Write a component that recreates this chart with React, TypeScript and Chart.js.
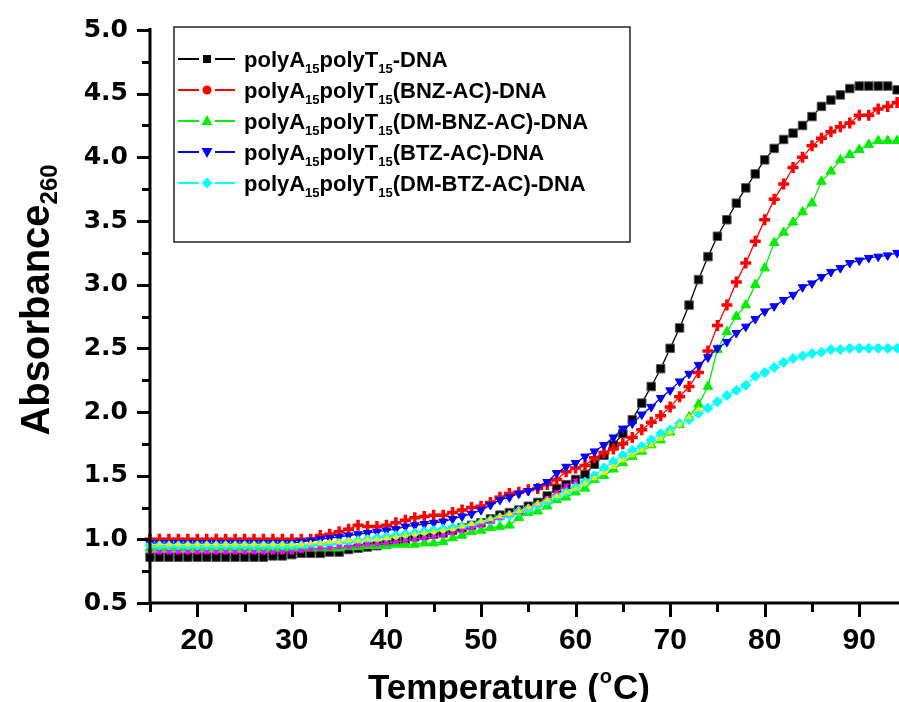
import React, { useEffect, useRef } from "react";
import { Chart, registerables } from "chart.js";

Chart.register(...registerables);

// Temperature (°C)
const temps = [
  15, 16, 17, 18, 19, 20, 21, 22, 23, 24,
  25, 26, 27, 28, 29, 30, 31, 32, 33, 34,
  35, 36, 37, 38, 39, 40, 41, 42, 43, 44,
  45, 46, 47, 48, 49, 50, 51, 52, 53, 54,
  55, 56, 57, 58, 59, 60, 61, 62, 63, 64,
  65, 66, 67, 68, 69, 70, 71, 72, 73, 74,
  75, 76, 77, 78, 79, 80, 81, 82, 83, 84,
  85, 86, 87, 88, 89, 90, 91, 92, 93, 94,
];

const dnaOnly = [
  0.86, 0.86, 0.86, 0.86, 0.86, 0.86, 0.86, 0.86, 0.86, 0.86,
  0.86, 0.86, 0.86, 0.87, 0.87, 0.88, 0.89, 0.89, 0.89, 0.90,
  0.90, 0.92, 0.93, 0.94, 0.95, 0.96, 0.98, 1.00, 1.02, 1.03,
  1.04, 1.05, 1.07, 1.09, 1.11, 1.13, 1.16, 1.19, 1.21, 1.23,
  1.26, 1.29, 1.34, 1.40, 1.43, 1.47, 1.51, 1.59, 1.66, 1.74,
  1.83, 1.94, 2.07, 2.20, 2.34, 2.50, 2.66, 2.84, 3.04, 3.22,
  3.38, 3.51, 3.64, 3.76, 3.87, 3.98, 4.07, 4.14, 4.19, 4.25,
  4.32, 4.40, 4.45, 4.49, 4.54, 4.56, 4.56, 4.56, 4.56, 4.53,
];

const bnzAc = [
  1.00, 1.00, 1.00, 1.00, 1.00, 1.00, 1.00, 1.00, 1.00, 1.00,
  1.00, 1.00, 1.00, 1.00, 1.00, 1.00, 1.00, 1.00, 1.03, 1.04,
  1.06, 1.08, 1.11, 1.10, 1.10, 1.11, 1.13, 1.15, 1.17, 1.18,
  1.19, 1.19, 1.21, 1.23, 1.25, 1.26, 1.29, 1.33, 1.36, 1.37,
  1.39, 1.40, 1.43, 1.47, 1.53, 1.56, 1.58, 1.64, 1.68, 1.71,
  1.75, 1.80, 1.86, 1.92, 1.97, 2.04, 2.12, 2.20, 2.31, 2.48,
  2.68, 2.84, 3.02, 3.17, 3.34, 3.51, 3.67, 3.79, 3.92, 4.00,
  4.09, 4.15, 4.20, 4.24, 4.27, 4.33, 4.33, 4.38, 4.40, 4.43,
];

const dmBnzAc = [
  0.93, 0.93, 0.93, 0.93, 0.93, 0.93, 0.93, 0.93, 0.93, 0.93,
  0.93, 0.93, 0.93, 0.93, 0.93, 0.93, 0.93, 0.93, 0.93, 0.93,
  0.93, 0.94, 0.94, 0.95, 0.95, 0.95, 0.96, 0.96, 0.96, 0.97,
  0.97, 0.98, 1.01, 1.03, 1.06, 1.07, 1.09, 1.10, 1.11, 1.17,
  1.21, 1.22, 1.26, 1.31, 1.33, 1.37, 1.40, 1.47, 1.50, 1.55,
  1.60, 1.65, 1.69, 1.74, 1.78, 1.84, 1.90, 1.96, 2.06, 2.20,
  2.49, 2.63, 2.75, 2.84, 3.00, 3.13, 3.33, 3.41, 3.49, 3.57,
  3.64, 3.81, 3.89, 3.98, 4.02, 4.06, 4.10, 4.13, 4.13, 4.13,
];

const btzAc = [
  0.97, 0.97, 0.97, 0.97, 0.97, 0.97, 0.97, 0.97, 0.97, 0.97,
  0.97, 0.97, 0.97, 0.97, 0.97, 0.97, 0.98, 0.99, 1.00, 1.01,
  1.02, 1.03, 1.04, 1.05, 1.06, 1.07, 1.08, 1.10, 1.11, 1.12,
  1.13, 1.14, 1.16, 1.18, 1.20, 1.23, 1.27, 1.31, 1.33, 1.36,
  1.38, 1.41, 1.45, 1.52, 1.57, 1.60, 1.65, 1.69, 1.74, 1.80,
  1.87, 1.91, 1.98, 2.04, 2.11, 2.17, 2.24, 2.30, 2.37, 2.43,
  2.50, 2.55, 2.62, 2.67, 2.73, 2.79, 2.83, 2.88, 2.92, 2.98,
  3.01, 3.06, 3.10, 3.13, 3.17, 3.19, 3.21, 3.22, 3.23, 3.25,
];

const dmBtzAc = [
  0.95, 0.95, 0.95, 0.95, 0.95, 0.95, 0.95, 0.95, 0.95, 0.95,
  0.95, 0.95, 0.95, 0.95, 0.95, 0.95, 0.95, 0.95, 0.96, 0.96,
  0.97, 0.98, 0.99, 1.00, 1.01, 1.02, 1.03, 1.04, 1.05, 1.06,
  1.07, 1.08, 1.09, 1.10, 1.11, 1.13, 1.15, 1.17, 1.19, 1.22,
  1.24, 1.27, 1.30, 1.34, 1.37, 1.41, 1.45, 1.50, 1.56, 1.61,
  1.66, 1.70, 1.73, 1.78, 1.83, 1.86, 1.91, 1.94, 1.99, 2.03,
  2.08, 2.13, 2.17, 2.21, 2.28, 2.31, 2.35, 2.39, 2.42, 2.44,
  2.46, 2.47, 2.49, 2.49, 2.50, 2.50, 2.50, 2.50, 2.50, 2.50,
];

// extra traces visible in the plot but not listed in the legend
const extraMagenta = [
  0.90, 0.90, 0.90, 0.90, 0.90, 0.90, 0.90, 0.90, 0.90, 0.90,
  0.90, 0.90, 0.90, 0.90, 0.90, 0.90, 0.91, 0.92, 0.93, 0.93,
  0.94, 0.94, 0.95, 0.96, 0.96, 0.97, 0.98, 0.99, 1.00, 1.01,
  1.02, 1.03, 1.05, 1.07, 1.09, 1.11, 1.14, 1.17, 1.20, 1.22,
  1.25, 1.28, 1.32, 1.37, 1.42, 1.46, null, null, null, null,
  null, null, null, null, null, null, null, null, null, null,
  null, null, null, null, null, null, null, null, null, null,
  null, null, null, null, null, null, null, null, null, null,
];

const extraYellow = [
  0.96, 0.96, 0.96, 0.96, 0.96, 0.96, 0.96, 0.96, 0.96, 0.96,
  0.96, 0.96, 0.96, 0.96, 0.96, 0.96, 0.96, 0.97, 0.97, 0.98,
  0.98, 0.99, 0.99, 1.00, 1.00, 1.01, 1.02, 1.03, 1.04, 1.05,
  1.06, 1.07, 1.08, 1.10, 1.12, 1.14, 1.16, 1.18, 1.20, 1.22,
  1.25, 1.28, 1.31, 1.34, 1.37, 1.40, 1.44, 1.48, 1.52, 1.57,
  1.62, 1.66, 1.70, 1.74, 1.79, 1.84, 1.90, 1.96, 2.02, null,
  null, null, null, null, null, null, null, null, null, null,
  null, null, null, null, null, null, null, null, null, null,
];

const xTicks = [20, 30, 40, 50, 60, 70, 80, 90];
const xMinorTicks = [15, 25, 35, 45, 55, 65, 75, 85];
const yTicks = [0.5, 1.0, 1.5, 2.0, 2.5, 3.0, 3.5, 4.0, 4.5, 5.0];
const yMinorTicks = [0.75, 1.25, 1.75, 2.25, 2.75, 3.25, 3.75, 4.25, 4.75];

// legend labels: even parts are normal text, odd parts are subscripts
const legendLabels = [
  ["polyA", "15", "polyT", "15", "-DNA"],
  ["polyA", "15", "polyT", "15", "(BNZ-AC)-DNA"],
  ["polyA", "15", "polyT", "15", "(DM-BNZ-AC)-DNA"],
  ["polyA", "15", "polyT", "15", "(BTZ-AC)-DNA"],
  ["polyA", "15", "polyT", "15", "(DM-BTZ-AC)-DNA"],
];
const legendColors = ["#000000", "#ff0000", "#00ee00", "#0000ff", "#00ffff"];
const legendMarkers = ["square", "circle", "triangle", "triangleDown", "diamond"];

const FONT = '"Liberation Sans", Arial, sans-serif';

function toPoints(vals: (number | null)[]) {
  return temps.map((t, i) => ({ x: t, y: vals[i] }));
}

function drawMarker(ctx: CanvasRenderingContext2D, kind: string, x: number, y: number, color: string) {
  ctx.fillStyle = color;
  ctx.beginPath();
  if (kind === "square") {
    ctx.rect(x - 4, y - 4, 8, 8);
  } else if (kind === "circle") {
    ctx.arc(x, y, 4.5, 0, Math.PI * 2);
  } else if (kind === "triangle") {
    ctx.moveTo(x, y - 6);
    ctx.lineTo(x + 5.5, y + 4);
    ctx.lineTo(x - 5.5, y + 4);
    ctx.closePath();
  } else if (kind === "triangleDown") {
    ctx.moveTo(x, y + 6);
    ctx.lineTo(x + 5.5, y - 4);
    ctx.lineTo(x - 5.5, y - 4);
    ctx.closePath();
  } else {
    ctx.moveTo(x, y - 5.5);
    ctx.lineTo(x + 5.5, y);
    ctx.lineTo(x, y + 5.5);
    ctx.lineTo(x - 5.5, y);
    ctx.closePath();
  }
  ctx.fill();
}

const decorPlugin = {
  id: "decor",
  afterDraw(chart: any) {
    const ctx: CanvasRenderingContext2D = chart.ctx;
    const a = chart.chartArea;
    const xs = chart.scales.x;
    const ys = chart.scales.y;
    ctx.save();

    // axes lines
    ctx.strokeStyle = "#000";
    ctx.lineWidth = 3;
    ctx.beginPath();
    ctx.moveTo(a.left, a.top - 2);
    ctx.lineTo(a.left, a.bottom + 1.5);
    ctx.moveTo(a.left - 1.5, a.bottom);
    ctx.lineTo(a.right, a.bottom);
    ctx.stroke();

    // tick marks
    ctx.lineWidth = 3;
    ctx.beginPath();
    for (const v of yTicks) {
      const py = Math.round(ys.getPixelForValue(v)) + 0.5;
      ctx.moveTo(a.left, py);
      ctx.lineTo(a.left - 13, py);
    }
    for (const v of xTicks) {
      const px = Math.round(xs.getPixelForValue(v)) + 0.5;
      ctx.moveTo(px, a.bottom);
      ctx.lineTo(px, a.bottom + 14);
    }
    ctx.stroke();
    ctx.beginPath();
    for (const v of yMinorTicks) {
      const py = Math.round(ys.getPixelForValue(v)) + 0.5;
      ctx.moveTo(a.left, py);
      ctx.lineTo(a.left - 8, py);
    }
    for (const v of xMinorTicks) {
      const px = Math.round(xs.getPixelForValue(v)) + 0.5;
      ctx.moveTo(px, a.bottom);
      ctx.lineTo(px, a.bottom + 9);
    }
    ctx.stroke();

    // legend box
    const bx = 174, by = 27, bw = 456, bh = 215;
    ctx.fillStyle = "#fff";
    ctx.fillRect(bx, by, bw, bh);
    ctx.strokeStyle = "#222";
    ctx.lineWidth = 1.5;
    ctx.strokeRect(bx, by, bw, bh);
    const rowY = [59, 90, 121, 152, 183];
    legendLabels.forEach((parts, i) => {
      const y = rowY[i];
      const c = legendColors[i];
      ctx.strokeStyle = c;
      ctx.lineWidth = 2;
      ctx.beginPath();
      ctx.moveTo(178, y);
      ctx.lineTo(199, y);
      ctx.moveTo(215, y);
      ctx.lineTo(235, y);
      ctx.stroke();
      drawMarker(ctx, legendMarkers[i], 207, y, c);
      let x = 244;
      ctx.fillStyle = "#000";
      ctx.textBaseline = "alphabetic";
      ctx.textAlign = "left";
      parts.forEach((p, j) => {
        if (j % 2 === 0) {
          ctx.font = `bold 22px ${FONT}`;
          ctx.fillText(p, x, y + 8);
        } else {
          ctx.font = `bold 13px ${FONT}`;
          ctx.fillText(p, x, y + 14);
        }
        x += ctx.measureText(p).width;
      });
    });

    // y axis title
    ctx.fillStyle = "#000";
    ctx.font = `bold 40px ${FONT}`;
    const mainY = "Absorbance";
    const wMain = ctx.measureText(mainY).width;
    ctx.font = `bold 24px ${FONT}`;
    const subY = "260";
    const wSub = ctx.measureText(subY).width;
    const total = wMain + wSub;
    ctx.save();
    ctx.translate(49, 300 + total / 2);
    ctx.rotate(-Math.PI / 2);
    ctx.textAlign = "left";
    ctx.font = `bold 40px ${FONT}`;
    ctx.fillText(mainY, 0, 0);
    ctx.font = `bold 24px ${FONT}`;
    ctx.fillText(subY, wMain, 8);
    ctx.restore();

    // x axis title
    const p1 = "Temperature (";
    const sup = "o";
    const p2 = "C)";
    ctx.font = `bold 35px ${FONT}`;
    const w1 = ctx.measureText(p1).width;
    const w3 = ctx.measureText(p2).width;
    ctx.font = `bold 20px ${FONT}`;
    const w2 = ctx.measureText(sup).width + 2;
    let tx = 509 - (w1 + w2 + w3) / 2;
    const base = 699;
    ctx.textAlign = "left";
    ctx.font = `bold 35px ${FONT}`;
    ctx.fillText(p1, tx, base);
    tx += w1;
    ctx.font = `bold 20px ${FONT}`;
    ctx.fillText(sup, tx + 1, base - 16);
    tx += w2;
    ctx.font = `bold 35px ${FONT}`;
    ctx.fillText(p2, tx, base);

    ctx.restore();
  },
};

export default function App() {
  const ref = useRef<HTMLCanvasElement>(null);

  useEffect(() => {
    const canvas = ref.current;
    if (!canvas) return;
    const mk = (
      label: string,
      vals: (number | null)[],
      color: string,
      style: any,
      radius: number,
      order: number,
      extra: any = {}
    ) => ({
      label,
      data: toPoints(vals),
      borderColor: color,
      backgroundColor: color,
      borderWidth: 1.3,
      pointStyle: style,
      pointRadius: radius,
      pointBackgroundColor: color,
      pointBorderColor: color,
      pointBorderWidth: 1,
      showLine: true,
      spanGaps: false,
      clip: false,
      order,
      ...extra,
    });

    const chart = new Chart(canvas, {
      type: "line",
      data: {
        datasets: [
          mk("polyA15polyT15-DNA", dnaOnly, "#000000", "rect", 6, 7, { pointBorderColor: "#555" }),
          mk("polyA15polyT15(BNZ-AC)-DNA", bnzAc, "#ff0000", "cross", 5.5, 6, { pointBorderWidth: 3.5 }),
          mk("polyA15polyT15(DM-BNZ-AC)-DNA", dmBnzAc, "#00ee00", "triangle", 5.5, 5),
          mk("polyA15polyT15(BTZ-AC)-DNA", btzAc, "#0000ff", "triangle", 5, 4, { pointRotation: 180 }),
          mk("polyA15polyT15(DM-BTZ-AC)-DNA", dmBtzAc, "#00ffff", "rectRot", 5, 3),
          mk("extra magenta", extraMagenta, "#ff00ff", "crossRot", 3, 2, { pointBorderWidth: 2, borderWidth: 1 }),
          mk("extra yellow", extraYellow, "#eeee00", "triangle", 3, 1, { borderWidth: 1 }),
        ],
      },
      options: {
        responsive: false,
        animation: false,
        devicePixelRatio: 1,
        layout: { autoPadding: false, padding: { top: 30, left: 0, right: 0, bottom: 0 } },
        plugins: {
          legend: { display: false },
          tooltip: { enabled: false },
          title: { display: false },
        },
        scales: {
          x: {
            type: "linear",
            min: 15,
            max: 94.2,
            grid: { display: false, drawTicks: false },
            border: { display: false },
            afterBuildTicks: (s: any) => {
              s.ticks = xTicks.map((v) => ({ value: v }));
            },
            afterFit: (s: any) => {
              s.height = 99;
              s.paddingLeft = 0;
              s.paddingRight = 0;
            },
            ticks: {
              color: "#000",
              padding: 20,
              maxRotation: 0,
              autoSkip: false,
              font: { family: FONT, size: 30, weight: "bold" },
              callback: (v: any) => String(v),
            },
          },
          y: {
            type: "linear",
            min: 0.5,
            max: 5.0,
            grid: { display: false, drawTicks: false },
            border: { display: false },
            afterBuildTicks: (s: any) => {
              s.ticks = yTicks.map((v) => ({ value: v }));
            },
            afterFit: (s: any) => {
              s.width = 150;
              s.paddingTop = 0;
              s.paddingBottom = 0;
            },
            ticks: {
              color: "#000",
              padding: 22,
              autoSkip: false,
              font: { family: '"DejaVu Sans", sans-serif', size: 25, weight: "bold" },
              callback: (v: any) => Number(v).toFixed(1),
            },
          },
        },
      } as any,
      plugins: [decorPlugin],
    });
    return () => chart.destroy();
  }, []);

  return (
    <div style={{ position: "fixed", left: 0, top: 0, width: 899, height: 702, background: "#fff" }}>
      <canvas ref={ref} width={899} height={702} style={{ display: "block" }} />
    </div>
  );
}
